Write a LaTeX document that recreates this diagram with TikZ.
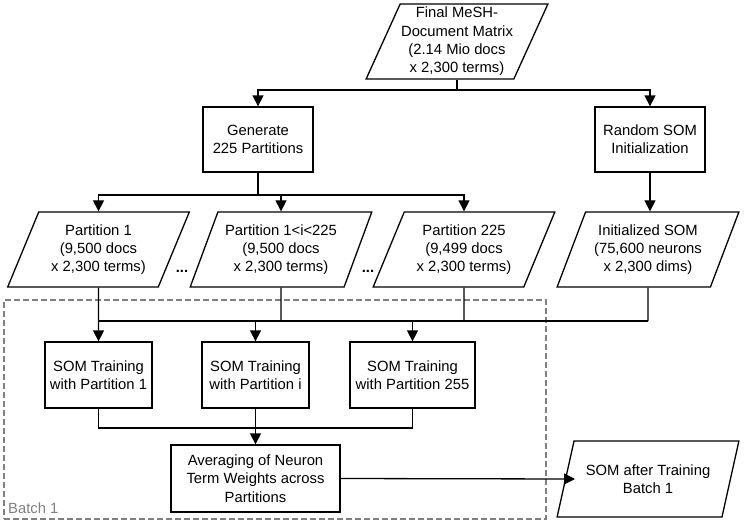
\documentclass[tikz,border=0pt]{standalone}
\usepackage{fontspec}
\setmainfont{Liberation Sans}
\usepackage{tikz}
\usetikzlibrary{shapes,arrows,positioning,calc,arrows.meta}

\newcommand{\flowfont}{\fontsize{14.8}{18.3}\selectfont}

\tikzset{
    proc/.style={draw, line width=1.3pt, align=center, inner sep=0pt, font=\flowfont},
    data/.style={draw, line width=1.3pt, align=center, inner sep=0pt, font=\flowfont,
        trapezium, trapezium left angle=64, trapezium right angle=116,
        trapezium stretches=true, minimum width=182pt, minimum height=75pt},
    arr/.style={line width=1.3pt, -{Triangle[length=11pt,width=11pt]}},
    link/.style={line width=1.3pt},
    batchbox/.style={draw=gray, dashed, dash pattern=on 6pt off 3pt, line width=1.2pt}
}

\begin{document}
\begin{tikzpicture}[x=1pt, y=-1pt]
    \useasboundingbox (0,0) rectangle (744,525);

    % dashed batch frame
    \node (batch) [batchbox, minimum width=542pt, minimum height=219pt, inner sep=0pt] at (275,409.5) {};
    \node [anchor=base west, text=gray, font=\flowfont, inner sep=0pt] at (8,513) {Batch 1};

    % input matrix
    \node (mat) [data] at (457,41.5) {Final MeSH-\\Document Matrix\\(2.14 Mio docs\\x 2,300 terms)};

    % preparation
    \node (gen) [proc, minimum width=110pt, minimum height=65pt] at (258,139.5) {Generate\\225 Partitions};
    \node (rand) [proc, minimum width=110pt, minimum height=65pt] at (650,139.5) {Random SOM\\Initialization};

    % partitions
    \node (p1) [data] at (98.5,249.5) {Partition 1\\(9,500 docs\\x 2,300 terms)};
    \node (pi) [data] at (281,249.5) {Partition 1<i<225\\(9,500 docs\\x 2,300 terms)};
    \node (p225) [data] at (464,249.5) {Partition 225\\(9,499 docs\\x 2,300 terms)};
    \node (isom) [data] at (648,249.5) {Initialized SOM\\(75,600 neurons\\x 2,300 dims)};
    \node (dotsA) [anchor=base, font=\flowfont\bfseries, inner sep=0pt] at (182,272) {...};
    \node (dotsB) [anchor=base, font=\flowfont\bfseries, inner sep=0pt] at (368,272) {...};

    % training
    \node (t1) [proc, minimum width=107pt, minimum height=66pt] at (98.5,375) {SOM Training\\with Partition 1};
    \node (t2) [proc, minimum width=107pt, minimum height=66pt] at (255.5,375) {SOM Training\\with Partition i};
    \node (t3) [proc, minimum width=125pt, minimum height=66pt] at (412.5,375) {SOM Training\\with Partition 255};

    % averaging and result
    \node (avg) [proc, minimum width=169pt, minimum height=67pt] at (255.5,478.5) {Averaging of Neuron\\Term Weights across\\Partitions};
    \node (out) [data, minimum height=76pt] at (648,479) {SOM after Training\\Batch 1};
    \coordinate (outin) at ($(out.center)+(-73,0)$);

    % bus lines
    \coordinate (busA) at (0,90);
    \coordinate (busB) at (0,195);
    \coordinate (busC) at (0,321);
    \coordinate (busD) at (0,428);

    \draw[link] (mat.south) -- (mat.south |- busA);
    \draw[arr] (mat.south |- busA) -| (gen.north);
    \draw[arr] (mat.south |- busA) -| (rand.north);

    \draw[link] (gen.south) -- (gen |- busB);
    \draw[arr] (gen |- busB) -| (p1.north);
    \draw[arr] (gen |- busB) -| (pi.north);
    \draw[arr] (gen |- busB) -| (p225.north);
    \draw[arr] (rand.south) -- (isom.north -| rand);

    \draw[link] (p1 |- busC) -- (isom |- busC);
    \draw[link] (pi.south) -- (pi |- busC);
    \draw[link] (p225.south) -- (p225 |- busC);
    \draw[link] (isom.south) -- (isom |- busC);
    \draw[arr] (p1.south) -- (t1.north);
    \draw[arr] (t2 |- busC) -- (t2.north);
    \draw[arr] (t3 |- busC) -- (t3.north);

    \draw[link] (t1.south) -- (t1 |- busD) -- (t3 |- busD) -- (t3.south);
    \draw[arr] (t2.south) -- (avg.north);
    \draw[arr] (avg.east) -- (outin);
\end{tikzpicture}
\end{document}
